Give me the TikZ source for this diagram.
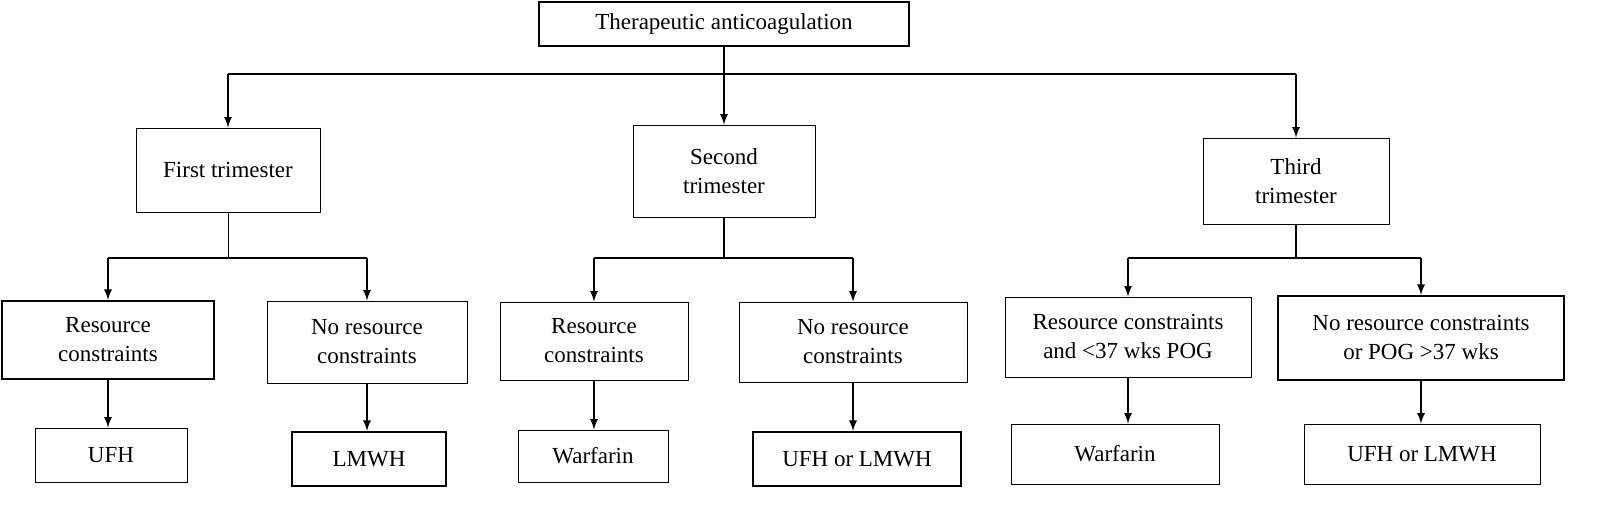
\documentclass[tikz,border=0pt]{standalone}
\usepackage{fontspec}
\setmainfont{Liberation Serif}
\usetikzlibrary{positioning}
\tikzset{
  box/.style={draw,align=center,inner sep=2pt,font=\fontsize{11.5}{14.5}\selectfont},
  bold box/.style={box,line width=1.1pt},
  link/.style={->,>=latex,thick},
}
\begin{document}
\begin{tikzpicture}[x=0.5pt,y=-0.5pt]
        \node[box,line width=0.9pt,minimum width=185pt,minimum height=22pt] (anticoag) at (724,24) {Therapeutic anticoagulation};
        \node[box,minimum width=92pt,minimum height=42pt] (first) at (228,170) {First trimester};
        \node[box,minimum width=91pt,minimum height=46pt] (second) at (724,171) {Second\\ trimester};
        \node[box,minimum width=93pt,minimum height=43pt] (third) at (1296,181) {Third\\ trimester};
        \coordinate (top) at (724,74);
        \coordinate (topl) at (228,74);
        \coordinate (topr) at (1296,74);
        \draw[thick] (anticoag) -- (top);
        \draw[thick] (topl) -- (topr);
        \draw[link] (topl) -- (first);
        \draw[link] (top) -- (second);
        \draw[link] (topr) -- (third);
        % first trimester
        \node[bold box,minimum width=106pt,minimum height=39pt] (rc1) at (108,340) {Resource\\ constraints};
        \node[box,minimum width=100pt,minimum height=41pt] (nrc1) at (367,342) {No resource\\ constraints};
        \node[box,minimum width=76pt,minimum height=27pt] (ufh1) at (111,455) {UFH};
        \node[bold box,minimum width=77pt,minimum height=27pt] (lmwh1) at (369,459) {LMWH};
        \coordinate (j1) at (228,258);
        \draw (first) -- (j1);
        \draw[thick] (rc1 |- j1) -- (nrc1 |- j1);
        \draw[link] (rc1 |- j1) -- (rc1);
        \draw[link] (nrc1 |- j1) -- (nrc1);
        \draw[link] (rc1.south) -- (rc1.south |- ufh1.north);
        \draw[link] (nrc1.south) -- (nrc1.south |- lmwh1.north);
        % second trimester
        \node[box,minimum width=94pt,minimum height=39pt] (rc2) at (594,341) {Resource\\ constraints};
        \node[box,minimum width=114pt,minimum height=40pt] (nrc2) at (853,342) {No resource\\ constraints};
        \node[box,minimum width=75pt,minimum height=26pt] (warf2) at (593,456) {Warfarin};
        \node[bold box,minimum width=104pt,minimum height=27pt] (both2) at (857,459) {UFH or LMWH};
        \coordinate (j2) at (724,258);
        \draw[thick] (second) -- (j2);
        \draw[thick] (rc2 |- j2) -- (nrc2 |- j2);
        \draw[link] (rc2 |- j2) -- (rc2);
        \draw[link] (nrc2 |- j2) -- (nrc2);
        \draw[link] (rc2.south) -- (rc2.south |- warf2.north);
        \draw[link] (nrc2.south) -- (nrc2.south |- both2.north);
        % third trimester
        \node[box,minimum width=123pt,minimum height=40pt] (rc3) at (1128,337) {Resource constraints\\ and <37 wks POG};
        \node[bold box,minimum width=143pt,minimum height=42pt] (nrc3) at (1421,338) {No resource constraints\\ or POG >37 wks};
        \node[box,minimum width=104pt,minimum height=30pt] (warf3) at (1115,454) {Warfarin};
        \node[box,minimum width=118pt,minimum height=30pt] (both3) at (1422,454) {UFH or LMWH};
        \coordinate (j3) at (1296,258);
        \draw[thick] (third) -- (j3);
        \draw[thick] (rc3 |- j3) -- (nrc3 |- j3);
        \draw[link] (rc3 |- j3) -- (rc3);
        \draw[link] (nrc3 |- j3) -- (nrc3);
        \draw[link] (rc3.south) -- (rc3.south |- warf3.north);
        \draw[link] (nrc3.south) -- (nrc3.south |- both3.north);
        \pgfresetboundingbox
        \useasboundingbox (0,0) rectangle (1618,528);
\end{tikzpicture}
\end{document}
